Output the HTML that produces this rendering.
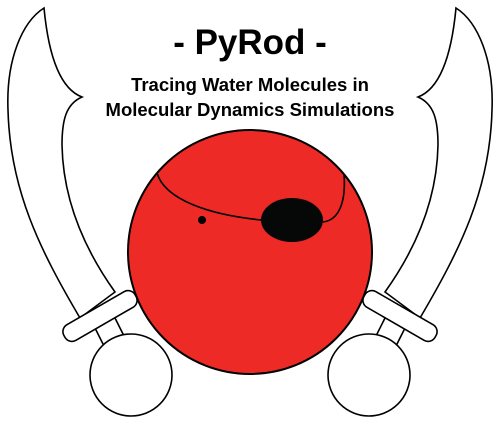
<!DOCTYPE html>
<html><head><meta charset="utf-8"><style>
html,body{margin:0;padding:0;background:#fff;}
svg{display:block;}
text{font-family:"Liberation Sans",sans-serif;font-weight:bold;fill:#000;}
</style></head><body>
<svg width="500" height="424" viewBox="0 0 500 424">
  <g>
    <circle cx="250" cy="252" r="122" fill="#ee2a27" stroke="#000" stroke-width="2"/>
    <path d="M157,173 C165,200 210,215 262,220" fill="none" stroke="#000" stroke-width="1.6"/>
    <path d="M323,222 C340,220 346,200 344,174" fill="none" stroke="#000" stroke-width="1.6"/>
    <ellipse cx="292" cy="220" rx="31" ry="22" fill="#060808"/>
    <circle cx="202" cy="220" r="4" fill="#000"/>
  </g>
  <g id="sword" fill="#fff" stroke="#000" stroke-width="1.6">
    <path d="M44,8 C48,50 58,88 82,97 C66,104 62,120 62,145 C63,200 85,250 115,292 L80,318 C40,250 10,190 8,110 C6,60 22,22 44,8 Z"/>
    <line x1="95" y1="328" x2="104" y2="346"/>
    <line x1="115" y1="318" x2="124" y2="336"/>
    <rect x="59" y="307" width="82" height="18" rx="8" transform="rotate(-30 100 316)"/>
    <circle cx="131" cy="375" r="41"/>
  </g>
  <g transform="translate(500,0) scale(-1,1)" fill="#fff" stroke="#000" stroke-width="1.6">
    <path d="M44,8 C48,50 58,88 82,97 C66,104 62,120 62,145 C63,200 85,250 115,292 L80,318 C40,250 10,190 8,110 C6,60 22,22 44,8 Z"/>
    <line x1="95" y1="328" x2="104" y2="346"/>
    <line x1="115" y1="318" x2="124" y2="336"/>
    <rect x="59" y="307" width="82" height="18" rx="8" transform="rotate(-30 100 316)"/>
    <circle cx="131" cy="375" r="41"/>
  </g>
  <text x="250" y="54" text-anchor="middle" font-size="35">- PyRod -</text>
  <text x="250" y="91" text-anchor="middle" font-size="18.5">Tracing Water Molecules in</text>
  <text x="250" y="116" text-anchor="middle" font-size="18.5">Molecular Dynamics Simulations</text>
</svg>
</body></html>
